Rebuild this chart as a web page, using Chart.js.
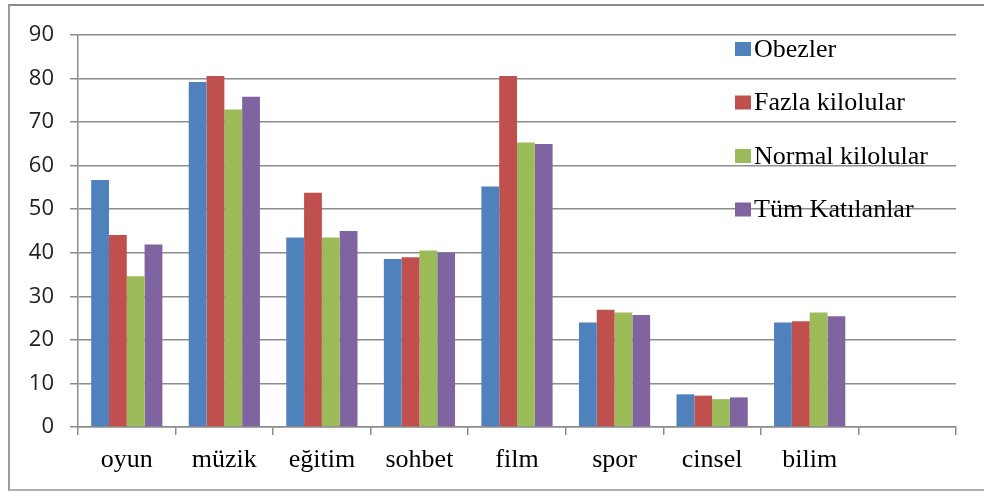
<!DOCTYPE html>
<html>
<head>
<meta charset="utf-8">
<script src="https://cdn.jsdelivr.net/npm/chart.js@4"></script>
<style>
  html, body { margin: 0; padding: 0; background: #fff; }
  #wrap { position: relative; width: 984px; height: 491px; overflow: hidden; }
  #frame {
    position: absolute; left: 8px; top: 4px; width: 1100px; height: 483px;
    border-top: 2px solid #8a8a8a; border-left: 2px solid #9a9a9a; border-bottom: 2px solid #b0b0b0;
  }
  canvas { position: absolute; left: 0; top: 0; }
</style>
</head>
<body>
<div id="wrap">
  <div id="frame"></div>
  <canvas id="c" width="984" height="491"></canvas>
</div>
<script>
// Categories (the last slot is left empty on the axis)
const categories = ['oyun', 'müzik', 'eğitim', 'sohbet', 'film', 'spor', 'cinsel', 'bilim', ''];

// Percentages per group
const obezler        = [56.7, 79.2, 43.5, 38.6, 55.2, 24.0, 7.5, 24.0];
const fazlaKilolular = [44.1, 80.6, 53.8, 39.0, 80.6, 26.9, 7.2, 24.3];
const normalKilolular= [34.6, 72.9, 43.5, 40.5, 65.3, 26.3, 6.4, 26.3];
const tumKatilanlar  = [41.9, 75.8, 45.0, 40.0, 65.0, 25.7, 6.8, 25.4];

const seriesNames = ['Obezler', 'Fazla kilolular', 'Normal kilolular', 'Tüm Katılanlar'];
const seriesColors = ['#4F81BD', '#C0504D', '#9BBB59', '#8064A2'];
const yTicks = [0, 10, 20, 30, 40, 50, 60, 70, 80, 90];

const seriesValues = [obezler, fazlaKilolular, normalKilolular, tumKatilanlar];

// Legend drawn inside the plot, stacked at the right
const insideLegend = {
  id: 'insideLegend',
  afterDraw(chart) {
    const ctx = chart.ctx;
    const x0 = 735, firstY = 49, step = 53.5;
    ctx.save();
    ctx.font = '26px "Liberation Serif", "Times New Roman", serif';
    ctx.textBaseline = 'middle';
    ctx.textAlign = 'left';
    chart.data.datasets.forEach((ds, i) => {
      const cy = firstY + i * step;
      ctx.fillStyle = ds.backgroundColor;
      ctx.fillRect(x0, cy - 7, 16, 14);
      ctx.fillStyle = '#000';
      ctx.fillText(ds.label, x0 + 19, cy + 1);
    });
    ctx.restore();
  }
};

const gridColor = '#8c8c8c';

new Chart(document.getElementById('c'), {
  type: 'bar',
  data: {
    labels: categories,
    datasets: seriesNames.map((name, i) => ({
      label: name,
      data: seriesValues[i],
      backgroundColor: seriesColors[i],
      borderWidth: 0,
      categoryPercentage: 0.73,
      barPercentage: 1.0
    }))
  },
  options: {
    responsive: false,
    animation: false,
    layout: { padding: { left: 0, right: 28, top: 35, bottom: 0 } },
    plugins: {
      legend: { display: false },
      tooltip: { enabled: false }
    },
    scales: {
      x: {
        offset: true,
        grid: {
          offset: true,
          drawOnChartArea: false,
          drawTicks: true,
          tickLength: 8,
          color: gridColor,
          lineWidth: 1.5
        },
        border: { color: gridColor, width: 1.5 },
        ticks: {
          color: '#000',
          padding: 10,
          maxRotation: 0,
          autoSkip: false,
          font: { family: '"Liberation Serif", "Times New Roman", serif', size: 26 }
        },
        afterFit(scale) { scale.height = 64; }
      },
      y: {
        min: 0,
        max: 90,
        afterBuildTicks(scale) { scale.ticks = yTicks.map(v => ({ value: v })); },
        grid: {
          color: gridColor,
          lineWidth: 1.5,
          drawTicks: true,
          tickLength: 8
        },
        border: { color: gridColor, width: 1.5 },
        ticks: {
          color: '#222',
          padding: 16,
          font: { family: '"Open Sans", Lato, sans-serif', size: 22 }
        },
        afterFit(scale) { scale.width = 78; }
      }
    }
  },
  plugins: [insideLegend]
});
</script>
</body>
</html>
